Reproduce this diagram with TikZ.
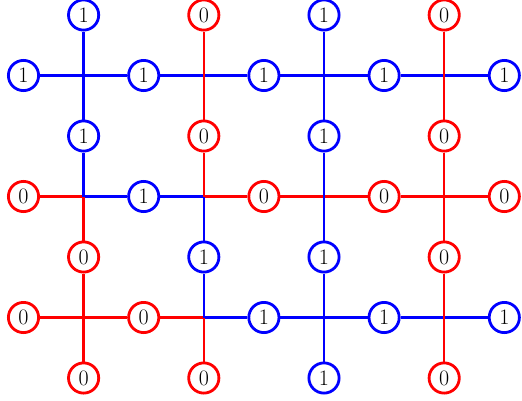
\documentclass[tikz,border=0pt]{standalone}
\usepackage{fontspec}
\newcommand\bitfont{\fontsize{22pt}{26pt}\selectfont}
\begin{document}
\begin{tikzpicture}[x=1pt,y=-1pt,
  bit/.style={circle,line width=2.8pt,fill=white,minimum size=30.2pt,inner sep=0pt,font=\bitfont},
  b1/.style={bit,draw=blue},
  b0/.style={bit,draw=red},
  w1/.style={line width=2.5pt,draw=blue},
  w0/.style={line width=2.5pt,draw=red}]
\useasboundingbox (0,0) rectangle (522,400);
\foreach \i in {0,...,8} \foreach \j in {0,...,6}
  \coordinate (c-\i-\j) at ({23.5+60.1*\i},{15+60.5*\j});
% nodes
\foreach \i/\j/\v in {1/0/1,3/0/0,5/0/1,7/0/0,
  0/1/1,2/1/1,4/1/1,6/1/1,8/1/1,
  1/2/1,3/2/0,5/2/1,7/2/0,
  0/3/0,2/3/1,4/3/0,6/3/0,8/3/0,
  1/4/0,3/4/1,5/4/1,7/4/0,
  0/5/0,2/5/0,4/5/1,6/5/1,8/5/1,
  1/6/0,3/6/0,5/6/1,7/6/0}
  \node[b\v] (n-\i-\j) at (c-\i-\j) {\v};
% horizontal wires
\foreach \i/\j/\v in {0/1/1,2/1/1,4/1/1,6/1/1,8/1/1,
  0/3/0,2/3/1,4/3/0,6/3/0,8/3/0,
  0/5/0,2/5/0,4/5/1,6/5/1,8/5/1}{
  \pgfmathtruncatemacro\l{\i-1}\pgfmathtruncatemacro\r{\i+1}
  \ifnum\i>0 \draw[w\v] (n-\i-\j) -- (c-\l-\j);\fi
  \ifnum\i<8 \draw[w\v] (n-\i-\j) -- (c-\r-\j);\fi
}
% vertical wires
\foreach \i/\j/\v in {1/0/1,3/0/0,5/0/1,7/0/0,
  1/2/1,3/2/0,5/2/1,7/2/0,
  1/4/0,3/4/1,5/4/1,7/4/0,
  1/6/0,3/6/0,5/6/1,7/6/0}{
  \pgfmathtruncatemacro\u{\j-1}\pgfmathtruncatemacro\d{\j+1}
  \ifnum\j>0 \draw[w\v] (n-\i-\j) -- (c-\i-\u);\fi
  \ifnum\j<6 \draw[w\v] (n-\i-\j) -- (c-\i-\d);\fi
}
\end{tikzpicture}
\end{document}
